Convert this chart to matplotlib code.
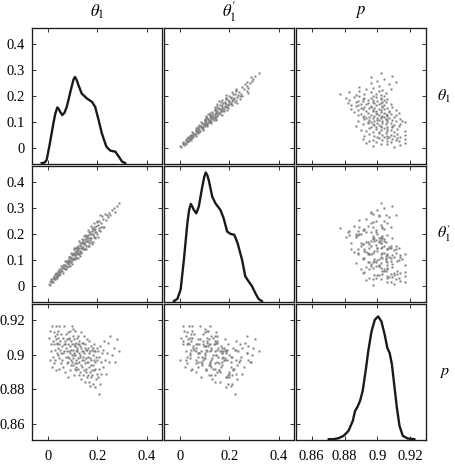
import matplotlib
matplotlib.use("Agg")
import matplotlib.pyplot as plt

plt.rcParams["font.family"] = ["Liberation Serif", "DejaVu Serif"]
plt.rcParams["mathtext.fontset"] = "stix"

# posterior samples (theta1, theta1', p)
theta1 = [
    0.004, 0.008, 0.011, 0.013, 0.015, 0.017, 0.019,
    0.021, 0.023, 0.024, 0.026, 0.027, 0.029, 0.030, 0.031, 0.033, 0.034, 0.035, 0.036, 0.037, 0.038, 0.039,
    0.040, 0.041, 0.042, 0.043, 0.044, 0.045, 0.046, 0.047, 0.049, 0.050, 0.052, 0.054, 0.055, 0.057, 0.059,
    0.060, 0.061, 0.062, 0.064, 0.065, 0.066, 0.068, 0.069, 0.070, 0.072, 0.073, 0.075, 0.076, 0.078, 0.079,
    0.080, 0.081, 0.082, 0.083, 0.084, 0.085, 0.086, 0.087, 0.088, 0.089, 0.090, 0.091, 0.092, 0.093, 0.094,
    0.095, 0.096, 0.097, 0.098, 0.099, 0.081,
    0.100, 0.101, 0.102, 0.103, 0.104, 0.105, 0.106, 0.107, 0.108, 0.109, 0.110, 0.111, 0.112, 0.113, 0.114,
    0.115, 0.116, 0.117, 0.118, 0.119, 0.103, 0.107, 0.111, 0.114, 0.118,
    0.120, 0.121, 0.122, 0.123, 0.124, 0.125, 0.126, 0.127, 0.128, 0.129, 0.130, 0.131, 0.132, 0.133, 0.134,
    0.135, 0.136, 0.137, 0.138, 0.139, 0.125,
    0.140, 0.141, 0.142, 0.143, 0.144, 0.145, 0.146, 0.147, 0.148, 0.149, 0.150, 0.151, 0.152, 0.153, 0.154,
    0.155, 0.156, 0.157, 0.158, 0.159,
    0.160, 0.161, 0.162, 0.163, 0.164, 0.165, 0.166, 0.167, 0.168, 0.169, 0.170, 0.171, 0.172, 0.173, 0.174,
    0.175, 0.176, 0.177, 0.179,
    0.180, 0.181, 0.182, 0.183, 0.184, 0.185, 0.186, 0.187, 0.188, 0.189, 0.190, 0.191, 0.192, 0.194, 0.195,
    0.197, 0.199,
    0.200, 0.202, 0.203, 0.205, 0.207, 0.208, 0.210, 0.212, 0.214, 0.216, 0.218,
    0.221, 0.224, 0.227, 0.231, 0.234, 0.238,
    0.243, 0.248, 0.252, 0.257,
    0.265, 0.271, 0.277,
    0.288,
]
theta1_prime = [
    0.006, 0.003, 0.016, 0.012, 0.024, 0.014, 0.021,
    0.030, 0.015, 0.029, 0.028, 0.036, 0.027, 0.045, 0.027, 0.037, 0.034, 0.047, 0.028, 0.045, 0.042, 0.034,
    0.050, 0.042, 0.055, 0.040, 0.051, 0.064, 0.042, 0.051, 0.057, 0.045, 0.064, 0.056, 0.074, 0.055, 0.066,
    0.078, 0.050, 0.073, 0.068, 0.081, 0.066, 0.095, 0.064, 0.079, 0.074, 0.094, 0.064, 0.090, 0.086, 0.072,
    0.092, 0.074, 0.100, 0.086, 0.111, 0.083, 0.096, 0.110, 0.077, 0.104, 0.096, 0.111, 0.092, 0.126, 0.089,
    0.108, 0.100, 0.123, 0.085, 0.117, 0.089,
    0.120, 0.107, 0.127, 0.101, 0.120, 0.139, 0.102, 0.117, 0.123, 0.103, 0.133, 0.116, 0.145, 0.111, 0.126,
    0.143, 0.105, 0.136, 0.127, 0.144, 0.103, 0.146, 0.106, 0.128, 0.123,
    0.150, 0.107, 0.142, 0.132, 0.151, 0.126, 0.170, 0.122, 0.144, 0.134, 0.164, 0.114, 0.155, 0.146, 0.124,
    0.154, 0.130, 0.164, 0.145, 0.178, 0.123,
    0.167, 0.149, 0.175, 0.142, 0.165, 0.190, 0.142, 0.160, 0.169, 0.142, 0.180, 0.159, 0.195, 0.151, 0.171,
    0.191, 0.142, 0.182, 0.170, 0.192,
    0.182, 0.152, 0.195, 0.171, 0.212, 0.163, 0.185, 0.207, 0.151, 0.197, 0.183, 0.207, 0.174, 0.230, 0.168,
    0.197, 0.183, 0.222, 0.159,
    0.211, 0.199, 0.169, 0.216, 0.195, 0.226, 0.187, 0.215, 0.242, 0.186, 0.207, 0.217, 0.185, 0.231, 0.206,
    0.250, 0.199,
    0.244, 0.187, 0.234, 0.222, 0.248, 0.214, 0.273, 0.209, 0.239, 0.227, 0.269,
    0.227, 0.258, 0.226, 0.274, 0.251, 0.270,
    0.262, 0.281, 0.270, 0.290,
    0.297, 0.285, 0.305,
    0.318,
]
p = [
    0.910, 0.897, 0.914, 0.906, 0.902, 0.917, 0.893,
    0.899, 0.908, 0.913, 0.895, 0.906, 0.911, 0.903, 0.897, 0.917, 0.909, 0.891, 0.906, 0.912, 0.901, 0.907,
    0.914, 0.900, 0.904, 0.910, 0.892, 0.906, 0.898, 0.917, 0.903, 0.908, 0.895, 0.912, 0.901, 0.905, 0.897,
    0.901, 0.910, 0.893, 0.906, 0.917, 0.902, 0.908, 0.890, 0.906, 0.899, 0.912, 0.904, 0.895, 0.902, 0.909,
    0.906, 0.896, 0.913, 0.887, 0.902, 0.909, 0.898, 0.910, 0.901, 0.891, 0.905, 0.914, 0.897, 0.903, 0.894,
    0.908, 0.900, 0.917, 0.896, 0.906, 0.899,
    0.894, 0.903, 0.911, 0.898, 0.888, 0.906, 0.901, 0.909, 0.895, 0.905, 0.892, 0.914, 0.900, 0.907, 0.897,
    0.902, 0.891, 0.910, 0.904, 0.895, 0.915, 0.900, 0.905, 0.893, 0.902,
    0.903, 0.892, 0.906, 0.898, 0.911, 0.888, 0.901, 0.896, 0.908, 0.900, 0.890, 0.905, 0.899, 0.913, 0.894,
    0.904, 0.886, 0.902, 0.907, 0.897, 0.906,
    0.893, 0.907, 0.899, 0.888, 0.902, 0.897, 0.911, 0.891, 0.901, 0.884, 0.904, 0.895, 0.906, 0.890, 0.898,
    0.903, 0.892, 0.909, 0.896, 0.887,
    0.903, 0.896, 0.888, 0.904, 0.899, 0.884, 0.901, 0.893, 0.908, 0.890, 0.898, 0.882, 0.902, 0.894, 0.905,
    0.887, 0.897, 0.903, 0.891,
    0.888, 0.900, 0.894, 0.904, 0.883, 0.897, 0.902, 0.891, 0.906, 0.881, 0.896, 0.892, 0.902, 0.886, 0.899,
    0.904, 0.889,
    0.897, 0.887, 0.902, 0.877, 0.899, 0.892, 0.905, 0.883, 0.896, 0.889, 0.901,
    0.903, 0.893, 0.908, 0.897, 0.889, 0.901,
    0.907, 0.896, 0.911, 0.900,
    0.904, 0.896, 0.909,
    0.902,
]

# density curves on the diagonal (arbitrary density units)
kde_theta1_x = [-0.024, -0.011, -0.004, 0.009, 0.023, 0.031, 0.039, 0.045, 0.050, 0.059, 0.068, 0.077, 0.093,
                0.104, 0.110, 0.117, 0.124, 0.137, 0.158, 0.178, 0.191, 0.205, 0.218, 0.236, 0.252, 0.262,
                0.272, 0.286, 0.299, 0.312]
kde_theta1_y = [0.0, 0.05, 0.2, 1.2, 2.4, 3.0, 3.36, 3.25, 3.1, 2.9, 3.05, 3.4, 4.4,
                5.05, 5.2, 5.0, 4.7, 4.2, 3.9, 3.7, 3.4, 2.6, 1.8, 1.0, 0.76, 0.72,
                0.7, 0.4, 0.1, 0.0]
kde_theta1p_x = [-0.023, -0.009, 0.004, 0.017, 0.031, 0.038, 0.045, 0.051, 0.057, 0.067, 0.077, 0.091, 0.099,
                 0.105, 0.111, 0.117, 0.131, 0.144, 0.164, 0.177, 0.191, 0.204, 0.220, 0.233, 0.251, 0.264,
                 0.277, 0.291, 0.304, 0.317, 0.331]
kde_theta1p_y = [0.0, 0.14, 0.7, 2.5, 4.7, 5.5, 5.86, 5.7, 5.5, 5.3, 5.7, 6.9, 7.5,
                 7.76, 7.6, 7.3, 6.3, 5.9, 5.5, 5.0, 4.2, 4.06, 4.0, 3.5, 2.5, 1.5,
                 1.2, 0.9, 0.5, 0.14, 0.0]
kde_p_x = [0.8704, 0.8734, 0.8764, 0.8794, 0.8824, 0.885, 0.8864, 0.8878, 0.8894, 0.891, 0.8928, 0.8944,
           0.8964, 0.8984, 0.9004, 0.9024, 0.9044, 0.906, 0.9074, 0.9088, 0.9104, 0.9118, 0.9134, 0.9154,
           0.9184, 0.9224]
kde_p_y = [0.0, 0.0, 0.06, 0.2, 0.5, 1.1, 1.7, 1.94, 2.3, 2.9, 4.1, 5.3,
           6.5, 7.2, 7.4, 7.1, 6.3, 5.5, 5.2, 4.5, 3.1, 1.9, 0.8, 0.2,
           0.04, 0.0]

names = [r"$\theta_1$", r"$\theta^{\prime}_1$", r"$p$"]
samples = [theta1, theta1_prime, p]
kdes = [(kde_theta1_x, kde_theta1_y), (kde_theta1p_x, kde_theta1p_y), (kde_p_x, kde_p_y)]
limits = [(-0.063, 0.46), (-0.063, 0.46), (0.8505, 0.9295)]
xticks = [[0, 0.2, 0.4], [0, 0.2, 0.4], [0.86, 0.88, 0.90, 0.92]]
yticks = [[0, 0.1, 0.2, 0.3, 0.4], [0, 0.1, 0.2, 0.3, 0.4], [0.86, 0.88, 0.90, 0.92]]

W, H = 455, 465
fig = plt.figure(figsize=(W / 100, H / 100), dpi=100)

col_left = [32, 164, 296]
row_top = [28, 166, 304]
pw, ph = 130, 136

for i in range(3):
    for j in range(3):
        ax = fig.add_axes([col_left[j] / W, 1 - (row_top[i] + ph) / H, pw / W, ph / H])
        ax.set_xlim(limits[j])
        ax.set_ylim(limits[i])
        ax.set_xticks(xticks[j])
        ax.set_yticks(yticks[i])
        ax.set_xticklabels([f"{v:g}" for v in xticks[j]])
        ax.set_yticklabels([f"{v:g}" for v in yticks[i]])
        ax.tick_params(direction="in", top=True, right=True, length=3, width=0.7,
                       labelsize=10.5, pad=5, color="0.2",
                       labelleft=(j == 0), labelbottom=(i == 2))
        ax.tick_params(axis="x", pad=7)
        for s in ax.spines.values():
            s.set_linewidth(0.95)
            s.set_color("0.1")
        if i == j:
            kx, ky = kdes[i]
            dens = ax.twinx()
            dens.plot(kx, ky, color="0.1", lw=1.7, solid_joinstyle="round")
            dens.set_ylim(-0.05, 8.15)
            dens.set_yticks([])
            for s in dens.spines.values():
                s.set_visible(False)
        else:
            ax.plot(samples[j], samples[i], linestyle="none", marker="s", ms=1.5,
                    color="0.5", mec="none")

col_centre = [c + pw / 2 for c in col_left]
row_centre = [r + ph / 2 for r in row_top]
for k in range(3):
    fig.text(col_centre[k] / W, 1 - 12 / H, names[k], ha="center", va="center", fontsize=12)
    fig.text(444 / W, 1 - row_centre[k] / H, names[k], ha="center", va="center", fontsize=11.5)

fig.savefig("out.png", dpi=100)
